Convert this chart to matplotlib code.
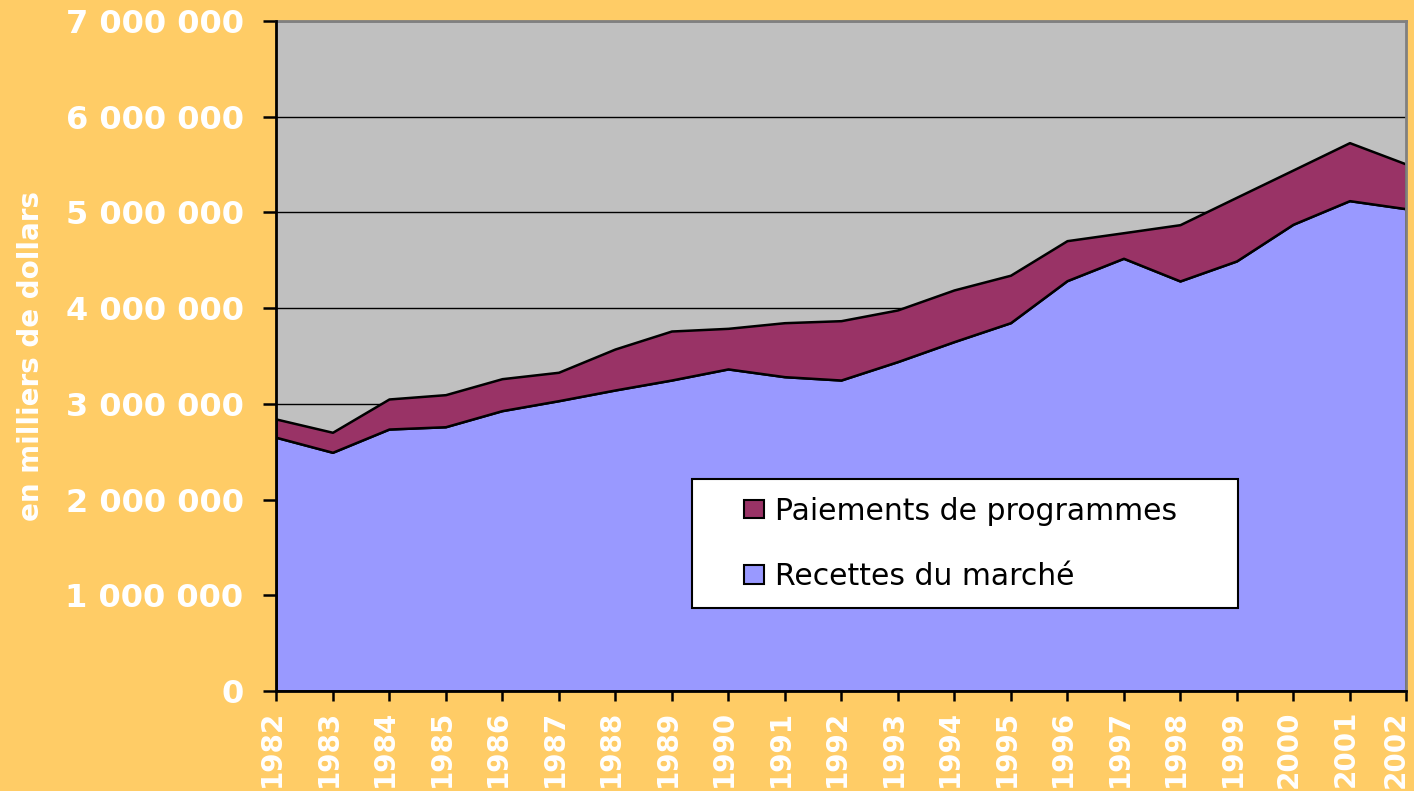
import matplotlib
matplotlib.use('Agg')
import matplotlib.pyplot as plt
from matplotlib.patches import Rectangle, Patch
from matplotlib.transforms import ScaledTranslation

years = list(range(1982, 2003))
recettes = [2651000, 2494000, 2737000, 2761000, 2929000, 3033000, 3145000,
            3249000, 3365000, 3284000, 3249000, 3441000, 3650000, 3848000,
            4287000, 4521000, 4284000, 4493000, 4876000, 5123000, 5039000]
paiements = [191000, 209000, 314000, 335000, 334000, 297000, 428000,
             512000, 424000, 564000, 620000, 540000, 540000, 496000,
             418000, 267000, 588000, 665000, 567000, 606000, 467000]
series_labels = ['Recettes du marché', 'Paiements de programmes']
ytick_values = [0, 1000000, 2000000, 3000000, 4000000, 5000000, 6000000, 7000000]
ytick_labels = ['0', '1 000 000', '2 000 000', '3 000 000', '4 000 000',
                '5 000 000', '6 000 000', '7 000 000']
ylabel = 'en milliers de dollars'

BG = '#FFCC66'
PLOT_BG = '#C0C0C0'
C_REC = '#9999FF'
C_PAI = '#993366'

plt.rcParams['font.family'] = ['DejaVu Sans']

fig = plt.figure(figsize=(14.14, 7.91), dpi=100, facecolor=BG)
ax = fig.add_axes([276 / 1414, 1 - 691 / 791, 1130 / 1414, 670 / 791])
ax.set_facecolor(PLOT_BG)

ax.set_axisbelow(True)
ax.yaxis.grid(True, color='black', linewidth=1.0, zorder=0)

ax.stackplot(years, recettes, paiements, colors=[C_REC, C_PAI],
             edgecolor='black', linewidth=1.8, zorder=2)

ax.set_xlim(years[0], years[-1])
ax.set_ylim(0, 7000000)
ax.set_yticks(ytick_values)
ax.set_yticklabels(ytick_labels)
ax.set_xticks(years)
ax.set_xticklabels([])

for lab in ax.get_yticklabels():
    lab.set_fontsize(23)
    lab.set_fontweight('bold')
    lab.set_color('white')

# year labels (rotated), placed under each tick
for i, y in enumerate(years):
    dx = -4 if i < len(years) - 1 else -10
    tr = ax.get_xaxis_transform() + ScaledTranslation(dx / 100, -19 / 100, fig.dpi_scale_trans)
    ax.text(y, 0, str(y), transform=tr, rotation=90, ha='center', va='top',
            fontsize=20, fontweight='bold', color='white', clip_on=False)

ax.tick_params(axis='y', direction='out', length=9.4, width=1.8, pad=14, color='black')
ax.tick_params(axis='x', direction='out', length=7.2, width=1.8, pad=7, color='black')

for s in ['left', 'bottom']:
    ax.spines[s].set_color('black')
    ax.spines[s].set_linewidth(2)
    ax.spines[s].set_zorder(5)
for s in ['top', 'right']:
    ax.spines[s].set_color('#808080')
    ax.spines[s].set_linewidth(2)

fig.text(31 / 1414, 1 - 356 / 791, ylabel, rotation=90, ha='center', va='center',
         fontsize=20, fontweight='bold', color='white')

# legend box
x0 = (692 - 276) / 1130
x1 = (1238 - 276) / 1130
y0 = (691 - 608) / 670
y1 = (691 - 479) / 670
ax.add_patch(Rectangle((x0, y0), x1 - x0, y1 - y0, transform=ax.transAxes,
                       facecolor='white', edgecolor='black', linewidth=1.5, zorder=6))
handles = [Patch(facecolor=C_PAI, edgecolor='black', linewidth=1.5, label=series_labels[1]),
           Patch(facecolor=C_REC, edgecolor='black', linewidth=1.5, label=series_labels[0])]
leg = ax.legend(handles=handles, loc='center left',
                bbox_to_anchor=((744 - 276) / 1130, (691 - 544) / 670),
                frameon=False, fontsize=21.5, handlelength=0.67, handleheight=0.57,
                handletextpad=0.38, labelspacing=1.22, borderpad=0, borderaxespad=0)
leg.set_zorder(7)

fig.savefig('out.png', dpi=100, facecolor=BG)
